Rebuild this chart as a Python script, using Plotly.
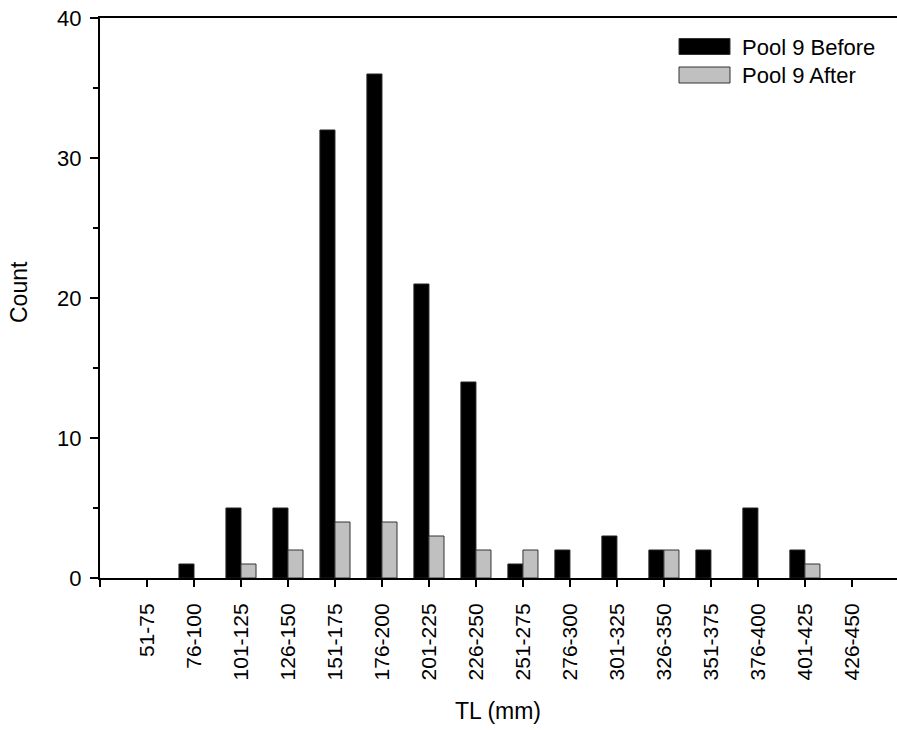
import plotly.graph_objects as go

categories = ["51-75", "76-100", "101-125", "126-150", "151-175", "176-200", "201-225",
              "226-250", "251-275", "276-300", "301-325", "326-350", "351-375", "376-400",
              "401-425", "426-450"]
before = [0, 1, 5, 5, 32, 36, 21, 14, 1, 2, 3, 2, 2, 5, 2, 0]
after = [0, 0, 1, 2, 4, 4, 3, 2, 2, 0, 0, 2, 0, 0, 1, 0]
series_names = ["Pool 9 Before", "Pool 9 After"]
y_ticks = [0, 10, 20, 30, 40]
x_title = "TL (mm)"
y_title = "Count"

FONT = "Liberation Sans, Arial, sans-serif"
xpos = list(range(len(categories)))
bw = 0.32

L, T, W, H = 100, 18, 797, 560


def px_x(x):
    return (x - L) / W


def px_y(y):
    return 1 - (y - T) / H


fig = go.Figure()
fig.add_trace(go.Bar(x=xpos, y=before, name=series_names[0], width=bw, offset=-bw,
                     marker=dict(color="#000000",
                                 line=dict(color="#222222", width=[1 if v else 0 for v in before])),
                     showlegend=False))
fig.add_trace(go.Bar(x=xpos, y=after, name=series_names[1], width=bw, offset=0,
                     marker=dict(color="#C0C0C0",
                                 line=dict(color="#333333", width=[1 if v else 0 for v in after])),
                     showlegend=False))

# custom legend (swatch + text)
legend_items = [(series_names[0], "#000000"), (series_names[1], "#C0C0C0")]
for i, (nm, col) in enumerate(legend_items):
    y0 = 38.5 + i * 28.5
    fig.add_shape(type="rect", xref="paper", yref="paper",
                  x0=px_x(679), x1=px_x(730), y0=px_y(y0 + 16), y1=px_y(y0),
                  fillcolor=col, line=dict(color="#333333", width=1))
    fig.add_annotation(xref="paper", yref="paper", x=px_x(740), y=px_y(y0 + 8.5),
                       text=nm, showarrow=False, xanchor="left", yanchor="middle",
                       font=dict(family=FONT, size=22, color="#000000"))

# axis titles
fig.add_annotation(xref="paper", yref="paper", x=px_x(498), y=px_y(711), text=x_title,
                   showarrow=False, xanchor="center", yanchor="middle",
                   font=dict(family=FONT, size=23, color="#000000"))
fig.add_annotation(xref="paper", yref="paper", x=px_x(19), y=px_y(292), text=y_title,
                   showarrow=False, xanchor="center", yanchor="middle", textangle=-90,
                   font=dict(family=FONT, size=23, color="#000000"))

fig.update_layout(
    width=897, height=730,
    margin=dict(l=L, r=0, t=T, b=730 - T - H),
    plot_bgcolor="white", paper_bgcolor="white",
    barmode="overlay",
    font=dict(family=FONT, size=22, color="#000000"),
    xaxis=dict(
        range=[-1, 15.96], tickmode="array",
        tickvals=[-1] + xpos, ticktext=[""] + categories,
        tickangle=-90, ticks="outside", ticklen=7, tickwidth=1.5, tickcolor="#000",
        ticklabelstandoff=8,
        showline=True, linecolor="#000", linewidth=2, mirror=True,
        showgrid=False, zeroline=False,
        tickfont=dict(size=21),
    ),
    yaxis=dict(
        range=[0, 40], tickmode="array", tickvals=y_ticks,
        ticks="outside", ticklen=8, tickwidth=1.5, tickcolor="#000",
        ticklabelstandoff=4,
        showline=True, linecolor="#000", linewidth=2,
        showgrid=False, zeroline=False,
        minor=dict(dtick=5, ticks="outside", ticklen=5, tickwidth=1.5, tickcolor="#000", showgrid=False),
        tickfont=dict(size=22),
    ),
)

fig.write_html("out.html")
